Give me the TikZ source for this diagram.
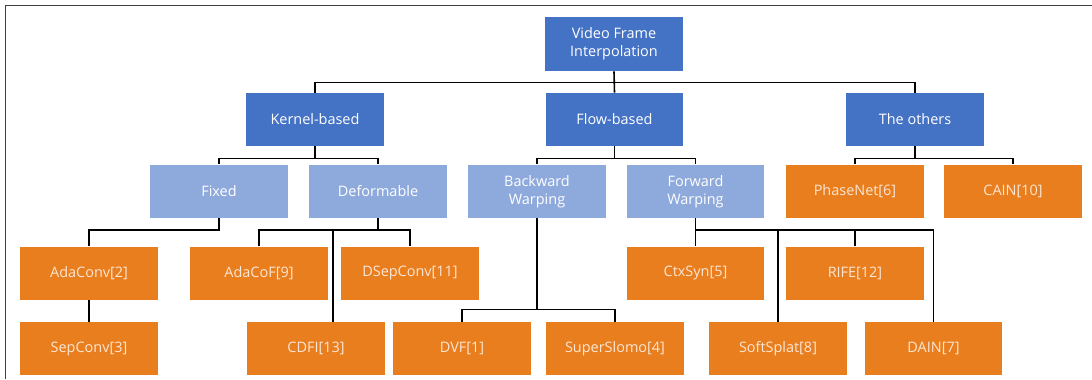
\documentclass[tikz,border=0pt]{standalone}
\usepackage{fontspec}
\setmainfont{Open Sans}
\definecolor{darkblue}{HTML}{4472C4}
\definecolor{lightblue}{HTML}{8EA9DB}
\definecolor{leaforange}{HTML}{E97E1E}
\definecolor{leaftext}{HTML}{FCE6D4}
\tikzset{
  nodebox/.style={minimum width=137.5bp,minimum height=53.5bp,inner sep=0pt,
    align=center,font=\fontsize{14.5}{18}\selectfont},
  catbox/.style={nodebox,fill=darkblue,text=white},
  subbox/.style={nodebox,fill=lightblue,text=white},
  papbox/.style={nodebox,fill=leaforange,text=leaftext},
  link/.style={line width=1.6bp,black}
}
\begin{document}
\begin{tikzpicture}[x=1bp,y=-1bp]
\useasboundingbox (0,0) rectangle (1092,379);
\draw[line width=1bp,black!75] (5,379) -- (5,5) -- (1092,5);
% root and categories
\node[catbox,minimum width=138bp,minimum height=54.5bp] (root) at (614,44) {Video Frame\\Interpolation};
\node[catbox] (kernel) at (315,119.5) {Kernel-based};
\node[catbox] (flow) at (614.5,119.5) {Flow-based};
\node[catbox] (others) at (915,119.5) {The others};
% second level
\node[subbox] (fixed) at (219,191.4) {Fixed};
\node[subbox] (deform) at (378,191.4) {Deformable};
\node[subbox] (backward) at (537,191.4) {Backward\\Warping};
\node[subbox] (forward) at (695.5,191.4) {Forward\\Warping};
\node[papbox] (phasenet) at (855,191.4) {PhaseNet[6]};
\node[papbox] (cain) at (1013,191.4) {CAIN[10]};
% third level
\node[papbox] (adaconv) at (89,273.4) {AdaConv[2]};
\node[papbox] (adacof) at (259,273.4) {AdaCoF[9]};
\node[papbox] (dsepconv) at (410,273.4) {DSepConv[11]};
\node[papbox] (ctxsyn) at (695.5,273.4) {CtxSyn[5]};
\node[papbox] (rife) at (855,273.4) {RIFE[12]};
% fourth level
\node[papbox] (sepconv) at (89,348.6) {SepConv[3]};
\node[papbox] (cdfi) at (316,348.6) {CDFI[13]};
\node[papbox] (dvf) at (462,348.6) {DVF[1]};
\node[papbox] (superslomo) at (615,348.6) {SuperSlomo[4]};
\node[papbox] (softsplat) at (778,348.6) {SoftSplat[8]};
\node[papbox] (dain) at (933.5,348.6) {DAIN[7]};
% bus points
\coordinate (rbus) at (614,82.5);
\coordinate (kbus) at (315,158.4);
\coordinate (fbus) at (614.5,158.4);
\coordinate (obus) at (915,158.4);
\coordinate (xbus) at (219,230);
\coordinate (dbus) at (378,230);
\coordinate (wbus) at (695.5,230);
\coordinate (bbus) at (537,309.4);
% connectors
\draw[link] (root.south) -- (flow.north);
\draw[link] (kernel.north) |- (rbus) -| (others.north);
\draw[link] (kernel.south) -- (kbus);
\draw[link] (fixed.north) |- (kbus) -| (deform.north);
\draw[link] (flow.south) -- (fbus);
\draw[link] (backward.north) |- (fbus) -| (forward.north);
\draw[link] (others.south) -- (obus);
\draw[link] (phasenet.north) |- (obus) -| (cain.north);
\draw[link] (fixed.south) -- (xbus) -| (adaconv.north);
\draw[link] (adaconv.south) -- (sepconv.north);
\draw[link] (deform.south) -- (dbus);
\draw[link] (adacof.north) |- (dbus) -| (dsepconv.north);
\draw[link] ([xshift=17bp]cdfi.north) |- (dbus);
\draw[link] (backward.south) -- (bbus);
\draw[link] (dvf.north) |- (bbus) -| (superslomo.north);
\draw[link] (forward.south) -- (ctxsyn.north);
\draw[link] (wbus) -| (dain.north);
\draw[link] (softsplat.north) -- (softsplat.north |- wbus);
\draw[link] (rife.north) -- (rife.north |- wbus);
\end{tikzpicture}
\end{document}
